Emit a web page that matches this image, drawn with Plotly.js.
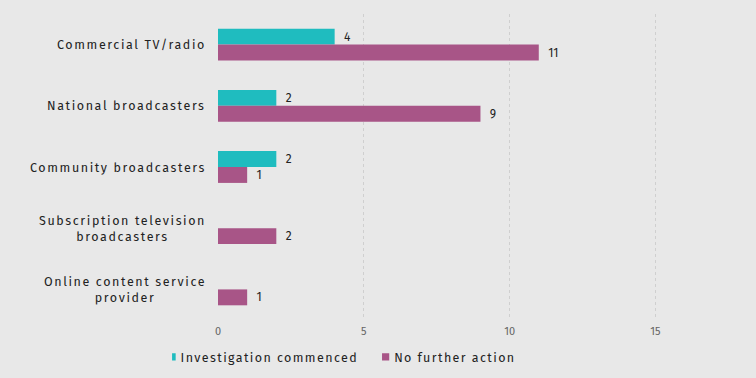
<!DOCTYPE html>
<html>
<head>
<meta charset="utf-8">
<script src="https://cdn.plot.ly/plotly-3.0.1.min.js"></script>
<style>
html,body{margin:0;padding:0;background:#e8e8e8;}
#chart{width:756px;height:378px;}
.annotation-text{letter-spacing:1.6px;}
.legendtext{letter-spacing:1.4px; transform:translateX(-31.5px);}
.legendpoints path{transform-box:fill-box; transform-origin:center; transform:scale(0.6);}
.legend .traces:nth-of-type(2) .legendtext{transform:translateX(-40.5px);}
.legend .traces:nth-of-type(2) .legendpoints path{transform:translateX(-9px) scale(0.6);}
</style>
</head>
<body>
<div id="chart"></div>
<script>
const categories = ["Commercial TV/radio", "National broadcasters", "Community broadcasters", "Subscription television broadcasters", "Online content service provider"];
const categoryLabels = ["Commercial TV/radio", "National broadcasters", "Community broadcasters", "Subscription television<br>broadcasters", "Online content service<br>provider"];
const investigationCommenced = [4, 2, 2, 0, 0];
const noFurtherAction = [11, 9, 1, 2, 1];
const xTicks = [0, 5, 10, 15];

const fontFam = "'Fira Sans', 'Noto Sans', 'Open Sans', sans-serif";
const lbl = v => v.map(x => x > 0 ? String(x) : "");

const traces = [
  {type: "bar", orientation: "h", name: "Investigation commenced", y: categories, x: investigationCommenced,
   marker: {color: "#1fbcbf"}, text: lbl(investigationCommenced), texttemplate: "  %{text}", textposition: "outside",
   textfont: {color: "#222", size: 12, family: fontFam}, cliponaxis: false, hoverinfo: "x+y"},
  {type: "bar", orientation: "h", name: "No further action", y: categories, x: noFurtherAction,
   marker: {color: "#a85587"}, text: lbl(noFurtherAction), texttemplate: "  %{text}", textposition: "outside",
   textfont: {color: "#222", size: 12, family: fontFam}, cliponaxis: false, hoverinfo: "x+y"}
];

const annotations = categories.map((c, i) => ({
  xref: "paper", yref: "y", x: 0, y: c, xanchor: "right", yanchor: "middle", xshift: -10,
  text: categoryLabels[i], showarrow: false, align: "center",
  font: {family: fontFam, size: 12.5, color: "#222"}
}));

const layout = {
  width: 756, height: 378,
  paper_bgcolor: "#e8e8e8", plot_bgcolor: "#e8e8e8",
  margin: {l: 218, r: 16, t: 14, b: 58},
  barmode: "group", bargap: 0.48, bargroupgap: 0,
  showlegend: true,
  legend: {orientation: "h", xref: "container", yref: "container", x: 0.2276, xanchor: "left", y: 0.055, yanchor: "middle",
           font: {family: fontFam, size: 12.5, color: "#222"}, bgcolor: "rgba(0,0,0,0)", itemwidth: 30, tracegroupgap: 0},
  xaxis: {range: [0, 17.9], tickvals: xTicks, ticktext: xTicks.map(String), showgrid: true,
          gridcolor: "#cfcfcf", griddash: "dot", gridwidth: 1, zeroline: false, showline: false,
          tickfont: {family: fontFam, size: 11, color: "#666"}, ticks: "", ticklabelstandoff: 3, fixedrange: true},
  yaxis: {type: "category", autorange: "reversed", showticklabels: false, showgrid: false,
          zeroline: false, showline: false, ticks: "", fixedrange: true},
  annotations: annotations,
  font: {family: fontFam}
};

Plotly.newPlot("chart", traces, layout, {displayModeBar: false, staticPlot: true});
</script>
</body>
</html>
